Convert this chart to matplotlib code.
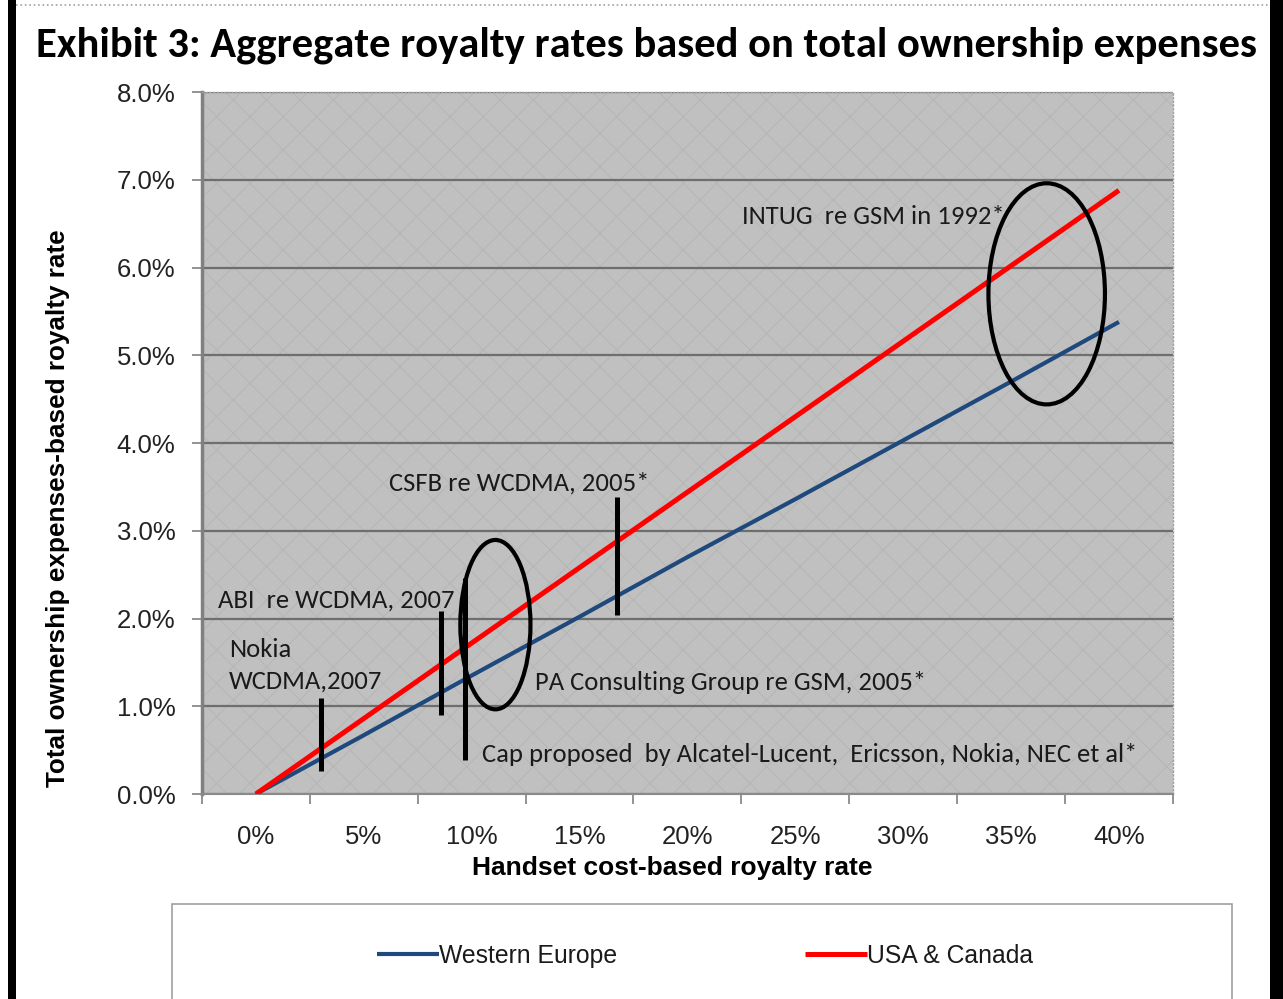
import matplotlib.pyplot as plt
import numpy as np
from matplotlib.lines import Line2D
from matplotlib.patches import Ellipse, Rectangle
from matplotlib.ticker import FixedLocator, FuncFormatter

# data (percent values)
categories = ["0%", "5%", "10%", "15%", "20%", "25%", "30%", "35%", "40%"]
western_europe = [0.00, 0.67, 1.35, 2.02, 2.70, 3.36, 4.03, 4.70, 5.38]
usa_canada = [0.00, 0.86, 1.72, 2.58, 3.44, 4.30, 5.16, 6.02, 6.88]

# annotation bars: (category position, y low %, y high %)
bars = [
    (0.60, 0.26, 1.09),   # Nokia
    (1.72, 0.90, 2.08),   # ABI
    (1.94, 0.39, 2.46),   # Cap proposed
    (3.35, 2.04, 3.38),   # CSFB
]
# annotation ellipses: (center x, center y, width, height)
ellipses = [
    (2.22, 1.93, 0.65, 1.93),   # PA Consulting
    (7.33, 5.70, 1.08, 2.52),   # INTUG
]
# annotation texts: (x, baseline y, text)
notes = [
    (4.51, 6.50, "INTUG  re GSM in 1992*"),
    (1.23, 3.46, "CSFB re WCDMA, 2005*"),
    (-0.35, 2.13, "ABI  re WCDMA, 2007"),
    (-0.25, 1.565, "Nokia"),
    (-0.25, 1.205, "WCDMA,2007"),
    (2.59, 1.19, "PA Consulting Group re GSM, 2005*"),
    (2.10, 0.37, "Cap proposed  by Alcatel-Lucent,  Ericsson, Nokia, NEC et al*"),
]

calibri = ["Carlito", "Lato", "DejaVu Sans"]
arial = ["Liberation Sans", "DejaVu Sans"]

plt.rcParams["hatch.linewidth"] = 0.6
fig = plt.figure(figsize=(12.83, 9.99), dpi=100)
ax = fig.add_axes([0.1574, 0.2052, 0.7568, 0.7027])

x = np.arange(len(categories))
ax.set_facecolor("#c0c0c0")
ax.add_patch(Rectangle((0, 0), 1, 1, transform=ax.transAxes, facecolor="none",
                       edgecolor="#b4b4b4", hatch="x", linewidth=0, zorder=0))

ax.plot(x, western_europe, color="#1f497d", lw=3.0, label="Western Europe",
        solid_capstyle="butt", zorder=3)
ax.plot(x, usa_canada, color="#ff0000", lw=3.6, label="USA & Canada",
        solid_capstyle="butt", zorder=3)

for bx, lo, hi in bars:
    ax.plot([bx, bx], [lo, hi], color="black", lw=3.6, solid_capstyle="butt", zorder=4)
for cx, cy, w, h in ellipses:
    ax.add_patch(Ellipse((cx, cy), w, h, facecolor="none", edgecolor="black",
                         lw=3.0, zorder=4))
for tx, ty, s in notes:
    ax.text(tx, ty, s, family=calibri, fontsize=19.2, color="#1a1a1a",
            ha="left", va="baseline", zorder=5)

ax.set_xlim(-0.5, len(categories) - 0.5)
ax.set_ylim(0, 8)
ax.set_yticks(np.arange(0, 9, 1))
ax.yaxis.set_major_formatter(FuncFormatter(lambda v, p: f"{v:.1f}%"))
ax.xaxis.set_major_locator(FixedLocator(np.arange(-0.5, len(categories), 1)))
ax.xaxis.set_minor_locator(FixedLocator(x))
ax.set_xticklabels([])
ax.set_xticklabels(categories, minor=True)
ax.tick_params(axis="x", which="major", length=7, width=1.2, color="#808080")
ax.tick_params(axis="x", which="minor", length=0, pad=22, labelsize=18.5)
ax.tick_params(axis="y", length=7, width=1.2, color="#808080", pad=12, labelsize=18.5)
for lab in ax.get_xticklabels(minor=True) + ax.get_yticklabels():
    lab.set_family(arial)
    lab.set_color("#222222")

ax.grid(axis="y", color="#6e6e6e", lw=1.6)
ax.set_axisbelow(True)
ax.spines["left"].set_color("#808080")
ax.spines["left"].set_linewidth(2.5)
ax.spines["bottom"].set_color("#8a8a8a")
ax.spines["bottom"].set_linewidth(1.5)
for side in ("top", "right"):
    ax.spines[side].set_color("#a0a0a0")
    ax.spines[side].set_linewidth(1.0)
    ax.spines[side].set_linestyle(":")

ax.set_xlabel("Handset cost-based royalty rate", family=arial, fontsize=19,
              fontweight="bold", va="center")
ax.xaxis.set_label_coords(0.484, -0.105)
ax.set_ylabel("Total ownership expenses-based royalty rate", family=arial,
              fontsize=18.8, fontweight="bold", va="center")
ax.yaxis.set_label_coords(-0.148, 0.407)

fig.text(646 / 1283, 0.955, "Exhibit 3: Aggregate royalty rates based on total ownership expenses",
         family=calibri, fontsize=30.7, fontweight="bold", ha="center", va="center")

# legend box (runs off the bottom of the picture)
fig.patches.append(Rectangle((172 / 1283, -0.02), (1232 - 172) / 1283, (999 - 904) / 999 + 0.02,
                             transform=fig.transFigure, facecolor="white",
                             edgecolor="#a0a0a0", lw=1.2, zorder=0))
leg = fig.legend(loc="center", bbox_to_anchor=(705 / 1283, 1 - 956 / 999), ncol=2,
                 frameon=False, handlelength=2.5, handletextpad=0.0,
                 columnspacing=7.6, prop={"family": arial, "size": 17.8})
for t in leg.get_texts():
    t.set_color("#1a1a1a")

# page frame
fig.patches.append(Rectangle((8 / 1283, 0), 8 / 1283, 1, transform=fig.transFigure,
                             facecolor="black", edgecolor="none"))
fig.patches.append(Rectangle((1270 / 1283, 0), 13 / 1283, 1, transform=fig.transFigure,
                             facecolor="black", edgecolor="none"))
fig.lines.append(Line2D([16 / 1283, 1270 / 1283], [1 - 5 / 999, 1 - 5 / 999],
                        transform=fig.transFigure, color="#a0a0a0", lw=1.2, ls=":"))

fig.savefig("out.png", dpi=100)
